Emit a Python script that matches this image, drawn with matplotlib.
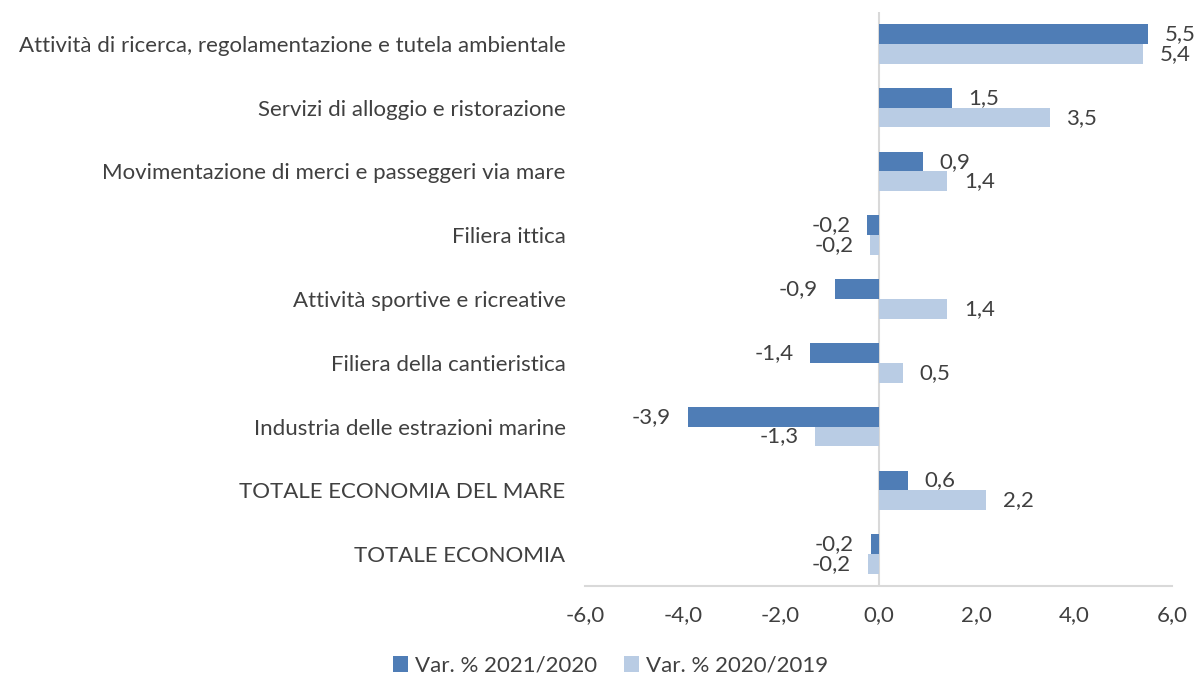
import numpy as np
import matplotlib.pyplot as plt

plt.rcParams['font.family'] = ['Lato', 'DejaVu Sans']

# Data
categories = [
    'Attività di ricerca, regolamentazione e tutela ambientale',
    'Servizi di alloggio e ristorazione',
    'Movimentazione di merci e passeggeri via mare',
    'Filiera ittica',
    'Attività sportive e ricreative',
    'Filiera della cantieristica',
    'Industria delle estrazioni marine',
    'TOTALE ECONOMIA DEL MARE',
    'TOTALE ECONOMIA',
]
var_2021_2020 = [5.5, 1.5, 0.9, -0.23, -0.9, -1.4, -3.9, 0.6, -0.16]
var_2020_2019 = [5.4, 3.5, 1.4, -0.17, 1.4, 0.5, -1.3, 2.2, -0.22]
series_names = ['Var. % 2021/2020', 'Var. % 2020/2019']
x_ticks = [-6, -4, -2, 0, 2, 4, 6]

dark_blue = '#4f7db6'
light_blue = '#b9cce4'
text_col = '#404040'
axis_col = '#d9d9d9'
fs = 16

fig = plt.figure(figsize=(11.97, 6.78), dpi=100)
ax = fig.add_axes([0.4887, 0.1357, 0.4905, 0.8465])

y = np.arange(len(categories))
h = 0.31
bars1 = ax.barh(y - h / 2, var_2021_2020, height=h, color=dark_blue, label=series_names[0])
bars2 = ax.barh(y + h / 2, var_2020_2019, height=h, color=light_blue, label=series_names[1])

def fmt(v):
    return f'{v:.1f}'.replace('.', ',')

for bars, vals in [(bars1, var_2021_2020), (bars2, var_2020_2019)]:
    for b, v in zip(bars, vals):
        yc = b.get_y() + b.get_height() / 2
        if v >= 0:
            ax.annotate(fmt(v), (v, yc), xytext=(12, 0), textcoords='offset points',
                        ha='left', va='center', fontsize=fs, color=text_col,
                        annotation_clip=False)
        else:
            ax.annotate(fmt(v), (v, yc), xytext=(-12, 0), textcoords='offset points',
                        ha='right', va='center', fontsize=fs, color=text_col,
                        annotation_clip=False)

ax.set_xlim(-6, 6)
ax.set_ylim(len(categories) - 0.5, -0.5)
ax.set_xticks(x_ticks)
ax.set_xticklabels([fmt(t) for t in x_ticks])
ax.set_yticks(y)
ax.set_yticklabels(categories)
ax.tick_params(axis='both', length=0, labelsize=fs, colors=text_col)
ax.tick_params(axis='y', pad=14)
ax.tick_params(axis='x', pad=14)

for s in ['top', 'right', 'left']:
    ax.spines[s].set_visible(False)
ax.spines['bottom'].set_color(axis_col)
ax.spines['bottom'].set_linewidth(1.5)
ax.axvline(0, color=axis_col, linewidth=1.5, zorder=0)

fig.legend(handles=[bars1, bars2], labels=series_names, loc='center',
           bbox_to_anchor=(0.51, 0.018), ncol=2, frameon=False,
           fontsize=fs, labelcolor=text_col, handlelength=0.7, handleheight=0.7,
           handletextpad=0.3, columnspacing=1.2)

fig.savefig('out.png', dpi=100)
